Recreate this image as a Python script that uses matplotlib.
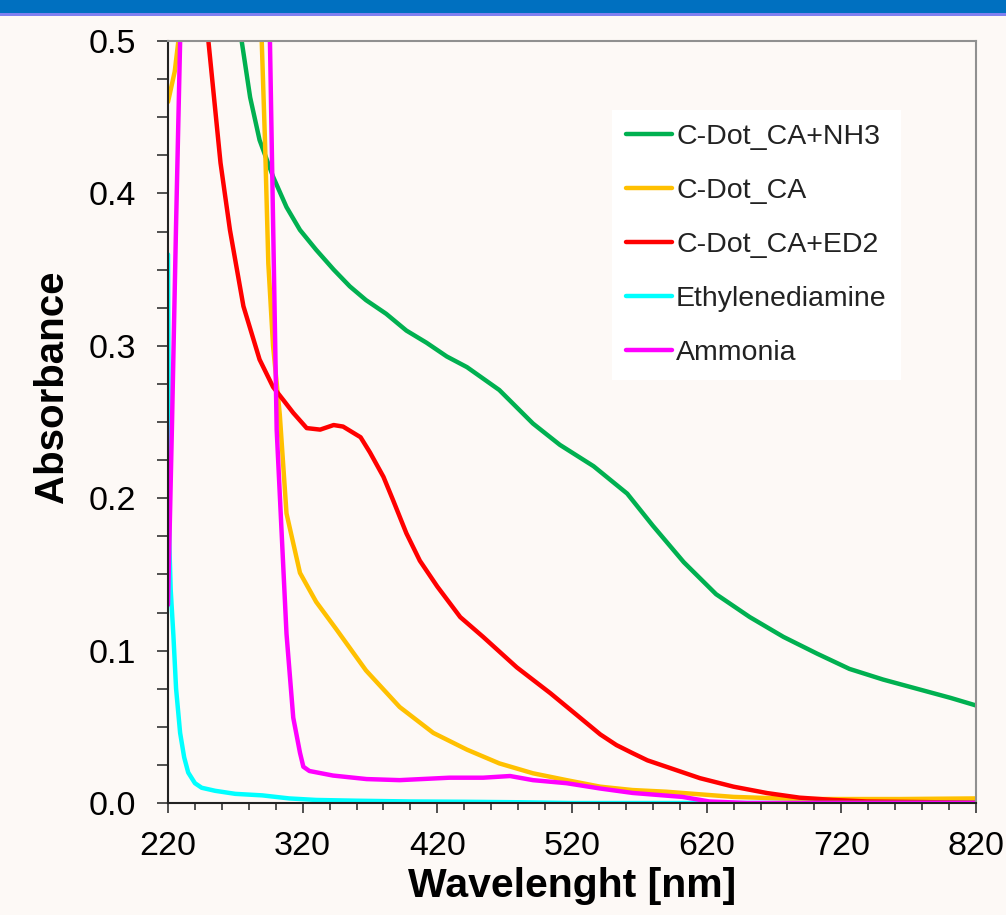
import matplotlib
matplotlib.use("Agg")
import matplotlib.pyplot as plt
from matplotlib.patches import Rectangle
from matplotlib.ticker import MultipleLocator

# =====================
# DATOS
# =====================

nh3_wl = [220, 250, 265, 274.7, 281, 288, 298, 308, 318, 330, 343, 355, 367, 382,
          397, 412, 427, 442, 466, 491, 511, 536, 561, 580, 603, 627, 652, 677,
          702, 726, 751, 776, 801, 820]
nh3_abs = [0.95, 0.68, 0.56, 0.5, 0.463, 0.435, 0.411, 0.391, 0.376, 0.363, 0.350,
           0.339, 0.330, 0.321, 0.310, 0.302, 0.293, 0.286, 0.271, 0.249, 0.235,
           0.221, 0.203, 0.182, 0.158, 0.137, 0.122, 0.109, 0.098, 0.088, 0.081,
           0.075, 0.069, 0.064]

ca_wl = [220, 225, 227.7, 232, 260, 286, 289.6, 292, 294.5, 298, 303, 308, 318, 330,
         345, 367, 392, 417, 442, 466, 491, 516, 541, 565, 590, 640, 689, 764, 820]
ca_abs = [0.46, 0.48, 0.5, 0.56, 0.9, 0.62, 0.5, 0.435, 0.354, 0.30, 0.255, 0.19,
          0.151, 0.132, 0.114, 0.087, 0.063, 0.046, 0.035, 0.026, 0.0195, 0.015,
          0.0107, 0.0085, 0.0074, 0.004, 0.0026, 0.0026, 0.003]

ed2_wl = [220, 240, 250, 259, 266, 276, 288, 298, 306, 313, 323, 333, 343, 350, 363,
          370, 380, 387, 397, 407, 420, 437, 454, 479, 504, 528, 541, 553, 565, 576,
          590, 615, 640, 665, 689, 714, 739, 790, 820]
ed2_abs = [1.0, 0.65, 0.5, 0.42, 0.376, 0.326, 0.291, 0.273, 0.264, 0.256, 0.246,
           0.245, 0.248, 0.247, 0.240, 0.230, 0.214, 0.199, 0.177, 0.159, 0.142,
           0.122, 0.109, 0.089, 0.072, 0.0545, 0.045, 0.038, 0.0327, 0.028, 0.0238,
           0.0163, 0.0107, 0.0065, 0.0035, 0.002, 0.001, 0.0005, 0.0003]

eda_wl = [220, 220.5, 221, 222, 224, 226, 229, 232, 235, 240, 245, 255, 270, 290,
          310, 330, 360, 400, 440, 480, 520, 820]
eda_abs = [0.36, 0.25, 0.17, 0.14, 0.11, 0.075, 0.046, 0.03, 0.02, 0.013, 0.010,
           0.008, 0.006, 0.005, 0.003, 0.002, 0.0015, 0.001, 0.0008, 0.0005, 0.0, 0.0]

amm_wl = [220, 223, 226, 229, 232, 240, 260, 285, 292, 295.7, 300.7, 304.4, 308, 313,
          318, 320.5, 325, 342.6, 367.5, 392, 429, 454, 474, 491, 516, 541, 565, 602,
          622, 650, 820]
amm_abs = [0.13, 0.25, 0.38, 0.5, 0.62, 0.9, 1.1, 0.9, 0.65, 0.5, 0.245, 0.177,
           0.111, 0.056, 0.033, 0.0238, 0.021, 0.018, 0.0157, 0.015, 0.0166, 0.0166,
           0.0177, 0.015, 0.013, 0.0095, 0.0066, 0.004, 0.001, 0.0, 0.0]

labels = ["C-Dot_CA+NH3", "C-Dot_CA", "C-Dot_CA+ED2", "Ethylenediamine", "Ammonia"]
colores = ["#00B050", "#FFC000", "#FF0000", "#00FFFF", "#FF00FF"]

xticks = [220, 320, 420, 520, 620, 720, 820]
yticks = [0.0, 0.1, 0.2, 0.3, 0.4, 0.5]

# =====================
# FIGURA
# =====================

plt.rcParams["font.family"] = ["Liberation Sans", "DejaVu Sans"]

bg = "#FDF9F6"
fig = plt.figure(figsize=(10.06, 9.15), dpi=100, facecolor=bg)
ax = fig.add_axes([168/1006, 1 - 803/915, 808/1006, 762/915], facecolor=bg)

# barra azul arriba
fig.patches.append(Rectangle((0, 1 - 13/915), 1, 13/915, transform=fig.transFigure,
                             facecolor="#0070C0", edgecolor="none"))
fig.patches.append(Rectangle((0, 1 - 16/915), 1, 3/915, transform=fig.transFigure,
                             facecolor="#8080F0", edgecolor="none"))

series = [(nh3_wl, nh3_abs), (ca_wl, ca_abs), (ed2_wl, ed2_abs),
          (eda_wl, eda_abs), (amm_wl, amm_abs)]
for (x, y), lab, c in zip(series, labels, colores):
    ax.plot(x, y, color=c, lw=3.2, label=lab, solid_capstyle="round")

ax.set_xlim(220, 820)
ax.set_ylim(0, 0.5)
ax.set_xticks(xticks)
ax.set_yticks(yticks)
ax.set_yticklabels([f"{v:.1f}" for v in yticks])
ax.xaxis.set_minor_locator(MultipleLocator(20))
ax.yaxis.set_minor_locator(MultipleLocator(0.025))

ax.tick_params(axis="x", which="major", length=7.5, width=1.2, color="#333333",
               labelsize=24.5, pad=13)
ax.tick_params(axis="x", which="minor", length=5, width=1.2, color="#333333")
ax.tick_params(axis="y", which="both", length=8, width=1.2, color="#333333",
               labelsize=24.5, pad=15)

for s in ["left", "bottom"]:
    ax.spines[s].set_color("#222222")
    ax.spines[s].set_linewidth(1.5)
for s in ["top", "right"]:
    ax.spines[s].set_color("#909090")
    ax.spines[s].set_linewidth(1.5)

ax.set_xlabel("Wavelenght [nm]", fontsize=29.5, fontweight="bold")
ax.set_ylabel("Absorbance", fontsize=29, fontweight="bold")
ax.xaxis.set_label_coords(0.5, -0.084)
ax.yaxis.set_label_coords(-0.12, 0.546)

leg = ax.legend(loc="upper left", bbox_to_anchor=(612/1006, 1 - 110/915),
                bbox_transform=fig.transFigure, fontsize=20.5, frameon=True,
                fancybox=False, facecolor="white", edgecolor="none", framealpha=1,
                handlelength=1.6, handletextpad=0.15, labelspacing=0.98,
                borderpad=0.5, borderaxespad=0)
for t in leg.get_texts():
    t.set_color("#222222")

fig.savefig("out.png", dpi=100, facecolor=bg)
